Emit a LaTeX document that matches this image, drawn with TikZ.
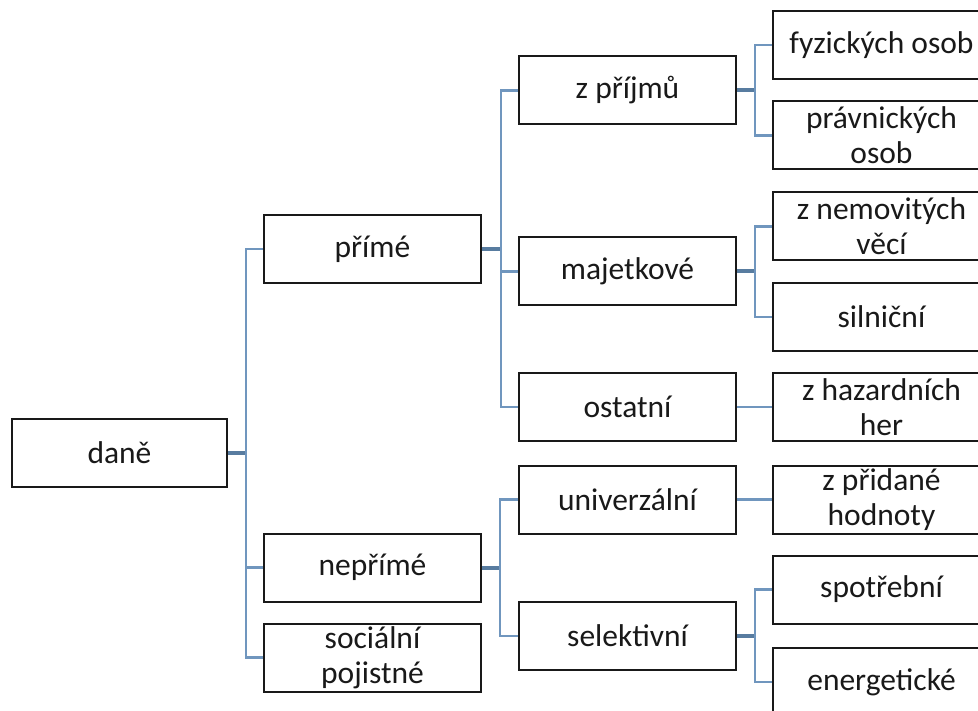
\documentclass[tikz,border=0pt]{standalone}
\usepackage{fontspec}
\setmainfont{Carlito}
\definecolor{linkblue}{RGB}{112,150,190}
\definecolor{stubblue}{RGB}{88,124,160}
\definecolor{txt}{RGB}{25,25,25}
\begin{document}
\begin{tikzpicture}[x=1pt,y=-1pt,
  box/.style={draw=txt, line width=2pt, rectangle, minimum width=217pt,
    minimum height=68pt, inner sep=0pt, align=center,
    font=\fontsize{31.5}{35}\selectfont, text=txt},
  conn/.style={draw=linkblue, line width=2.8pt},
  stub/.style={draw=stubblue, line width=4pt}]
\useasboundingbox (0,0) rectangle (978,711);
\begin{scope}
\clip (0,0) rectangle (978,711);
% level 0
\node[box, minimum width=215pt] (dane) at (119.5,453) {daně};
% level 1
\node[box] (prime) at (372.5,249) {přímé};
\node[box] (neprime) at (372.5,567.5) {nepřímé};
\node[box] (social) at (372.5,657.5) {sociální\\pojistné};
% level 2
\node[box] (zprijmu) at (627.5,90.5) {z příjmů};
\node[box] (majet) at (627.5,271.5) {majetkové};
\node[box] (ostatni) at (627.5,407) {ostatní};
\node[box] (univ) at (627.5,499.5) {univerzální};
\node[box] (selekt) at (627.5,636) {selektivní};
% level 3
\node[box] (fyz) at (881.5,45) {fyzických osob};
\node[box] (prav) at (881.5,135.5) {právnických\\osob};
\node[box] (nemov) at (881.5,226.5) {z nemovitých\\věcí};
\node[box] (silnic) at (881.5,317) {silniční};
\node[box] (hazard) at (881.5,407) {z hazardních\\her};
\node[box] (pridane) at (881.5,499.5) {z přidané\\hodnoty};
\node[box] (spotreb) at (881.5,589.5) {spotřební};
\node[box] (energ) at (881.5,682) {energetické};
\end{scope}
% connectors level 0 -> 1
\draw[stub] (dane.east) -- ++(18,0) coordinate (t0);
\draw[conn] (t0) |- (prime.west);
\draw[conn] (t0) |- (neprime.west);
\draw[conn] (t0) |- (social.west);
% přímé -> level 2
\draw[stub] (prime.east) -- ++(19,0) coordinate (t1);
\draw[conn] (t1) |- (zprijmu.west);
\draw[conn] (t1) |- (majet.west);
\draw[conn] (t1) |- (ostatni.west);
% nepřímé -> level 2
\draw[stub] (neprime.east) -- ++(18,0) coordinate (t2);
\draw[conn] (t2) |- (univ.west);
\draw[conn] (t2) |- (selekt.west);
% level 2 -> level 3
\draw[stub] (zprijmu.east) -- ++(18,0) coordinate (t3);
\draw[conn] (t3) |- (fyz.west);
\draw[conn] (t3) |- (prav.west);
\draw[stub] (majet.east) -- ++(18,0) coordinate (t4);
\draw[conn] (t4) |- (nemov.west);
\draw[conn] (t4) |- (silnic.west);
\draw[conn] (ostatni.east) -- (hazard.west);
\draw[conn] (univ.east) -- (pridane.west);
\draw[stub] (selekt.east) -- ++(18,0) coordinate (t5);
\draw[conn] (t5) |- (spotreb.west);
\draw[conn] (t5) |- (energ.west);
\end{tikzpicture}
\end{document}
